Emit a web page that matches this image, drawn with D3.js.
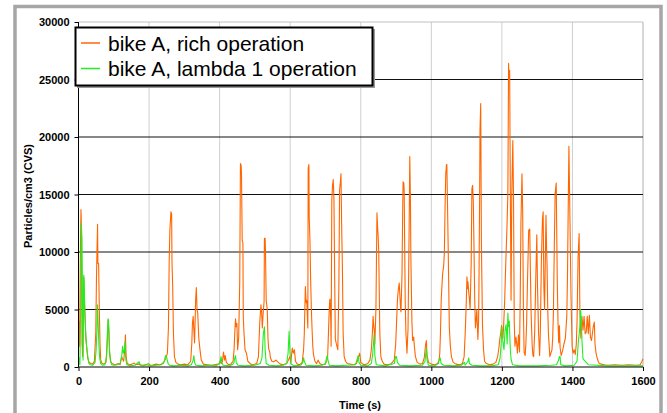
<!DOCTYPE html>
<html><head><meta charset="utf-8">
<script src="https://cdn.jsdelivr.net/npm/d3@7"></script>
<style>body{margin:0;background:#fff}svg{display:block}text{font-family:Arial,"Liberation Sans",sans-serif}</style>
</head><body><svg id="c" width="667" height="413"></svg>
<script>
const seriesNames = ["bike A, rich operation", "bike A, lambda 1 operation"];
const seriesColors = ["#ff6600", "#22ee22"];
const xTicks = [0, 200, 400, 600, 800, 1000, 1200, 1400, 1600];
const yTicks = [0, 5000, 10000, 15000, 20000, 25000, 30000];
const xTitle = "Time (s)";
const yTitle = "Particles/cm3 (CVS)";

const richTime = [0,1,3,5,7,8,10,12,14,15,17,19,21,23,26,30,35,40,45,49,51,54,55,57,59,61,63,67,72,78,81,84,86,88,92,98,105,112,118,122,125,128,131,133,135,138,145,152,158,162,170,180,190,200,210,220,230,240,245,249,252,255,257,259,262,264,265,267,269,272,276,282,290,300,310,318,321,323,325,327,329,332,334,336,338,341,344,348,354,365,375,385,395,400,402,405,408,411,414,416,419,425,432,438,441,443,445,447,449,451,454,457,459,461,462,464,466,467,469,472,476,480,488,495,505,510,512,514,517,519,521,523,526,527,529,530,532,535,537,539,542,544,548,553,560,566,572,580,590,595,599,602,605,606,609,612,615,620,627,634,638,640,643,645,647,650,651,653,654,656,658,660,662,664,666,670,675,679,684,690,700,706,708,710,712,713,715,716,718,720,722,724,726,728,731,735,738,740,742,744,746,748,750,753,757,762,770,780,788,793,797,800,806,812,820,826,830,833,835,837,838,840,843,846,848,849,851,854,857,861,866,875,885,895,899,901,904,906,909,911,913,914,917,919,920,922,923,926,928,931,934,937,939,941,942,945,947,950,952,955,960,968,975,980,984,986,988,992,1000,1010,1018,1022,1024,1026,1028,1030,1032,1035,1037,1039,1041,1043,1044,1046,1048,1051,1054,1057,1062,1070,1080,1088,1093,1096,1099,1101,1103,1104,1106,1108,1110,1113,1115,1117,1119,1121,1123,1125,1127,1129,1132,1134,1135,1137,1138,1140,1142,1145,1148,1151,1156,1165,1175,1183,1188,1191,1194,1197,1199,1201,1203,1205,1208,1211,1214,1217,1219,1220,1222,1224,1226,1228,1231,1233,1235,1237,1240,1242,1244,1247,1250,1252,1254,1257,1259,1261,1263,1266,1268,1270,1273,1276,1279,1281,1283,1286,1288,1290,1293,1296,1299,1301,1304,1307,1309,1312,1315,1317,1319,1321,1323,1325,1327,1328,1330,1332,1336,1339,1342,1344,1346,1349,1351,1354,1357,1359,1361,1363,1365,1368,1372,1376,1380,1384,1386,1388,1390,1393,1396,1399,1402,1405,1408,1411,1413,1416,1419,1421,1424,1427,1430,1433,1436,1439,1442,1445,1448,1451,1454,1457,1459,1462,1464,1467,1469,1473,1476,1482,1490,1500,1520,1540,1560,1580,1592,1597,1600];
const richValues = [1600,3900,1800,9000,13700,12600,2100,900,6000,7800,5500,3800,2400,1800,800,400,300,250,500,3000,7900,12400,9000,9000,5000,2000,600,300,250,400,2000,4100,3000,1200,400,250,200,300,200,900,700,500,1500,2800,900,300,200,250,350,200,250,150,200,150,180,250,200,300,600,900,1200,3500,9100,11900,13500,13300,9100,7000,3000,900,400,250,200,250,200,500,2000,3800,4400,3200,2100,5800,6900,5000,4700,2500,1600,600,250,200,150,200,250,300,600,300,500,1300,600,1000,400,200,250,500,1500,3000,4200,3500,3800,1500,2500,7400,17700,17500,16800,11000,10800,4400,3000,1500,1200,500,250,200,300,900,2500,4000,5400,4800,3400,4500,5700,11200,11200,10000,5800,5000,2500,1600,1300,800,500,450,600,400,250,200,300,600,900,400,1400,1650,1200,1500,500,250,200,400,1500,2900,7000,5600,5800,3400,17300,17600,13000,11000,7600,5000,3300,1800,1100,500,300,600,300,200,250,800,2500,4400,5800,5900,4000,1800,14500,15800,16300,14700,8000,2400,2000,1500,7000,15400,16000,16800,12000,8700,3000,900,500,300,250,200,300,800,1200,400,250,200,300,600,1500,3000,4400,3500,3300,2000,5000,13400,12000,11600,10000,3000,900,500,250,200,250,600,2000,3500,5800,6600,7300,6200,5000,4800,8100,14000,16100,16000,15500,5800,3000,1200,3300,11500,18300,14000,9600,4000,2300,2600,1800,900,400,250,300,800,2000,2300,1000,400,250,200,300,600,1200,3000,5800,7000,8100,8800,9900,14000,16800,17600,17600,14000,10000,3500,1800,900,400,250,200,300,900,2900,5500,7850,6800,7400,6500,5900,5000,9000,15500,15800,14400,10400,6000,3400,4000,5000,2400,4000,7000,15000,20600,22900,10700,3700,1500,500,300,200,250,400,900,1500,2400,3000,3600,2800,2500,3600,5800,9000,11700,15100,26400,25000,25800,15100,5800,14800,19700,14800,4000,1800,2600,2000,1200,2800,1300,6000,12500,16800,13500,5000,1300,1000,2000,3700,8000,11900,12000,8000,4500,1800,1000,900,3000,7600,11500,7000,3000,1000,3000,9300,12800,13500,7000,5000,9000,13200,10000,9000,5000,2900,900,1200,1500,2500,4600,11300,15100,16000,7500,4000,2100,3600,1700,1000,1400,2000,2500,4400,8000,13700,19200,12800,6100,1800,1200,1500,1100,2000,3900,9600,11600,5000,2500,4400,3200,4400,2900,3000,4400,2900,4500,2600,2300,3000,3500,3900,2000,1200,900,500,300,250,200,150,200,150,200,150,200,500,700];

const lambdaTime = [0,2,4,6,8,10,12,13,14,15,16,17,19,21,23,26,29,33,40,47,50,52,54,56,58,60,63,68,75,80,82,84,86,88,90,94,100,110,118,122,125,127,130,132,134,137,145,160,172,175,185,199,205,220,235,243,247,250,254,258,270,290,310,320,325,327,329,333,350,370,390,400,404,406,410,430,440,443,445,447,452,470,500,515,520,524,527,529,532,540,560,580,590,594,597,599,602,610,630,636,638,640,645,670,690,700,703,705,707,711,730,760,785,790,793,795,800,820,830,834,838,840,844,870,895,899,901,904,910,940,975,982,986,988,992,1010,1020,1023,1025,1028,1035,1060,1085,1092,1094,1096,1104,1106,1108,1115,1140,1170,1190,1195,1198,1200,1203,1206,1209,1212,1215,1217,1219,1221,1224,1226,1230,1250,1300,1340,1355,1361,1363,1365,1367,1380,1405,1413,1417,1419,1421,1423,1425,1427,1430,1445,1500,1550,1600];
const lambdaValues = [100,800,200,5000,12500,11000,3000,600,5000,8000,7400,6000,4100,2600,1800,1000,350,200,150,400,1500,3000,5400,3500,1800,800,300,150,200,1000,3000,4200,3500,1500,600,200,150,200,300,800,1800,1200,1500,2200,700,200,100,150,460,150,100,300,100,150,200,500,1000,800,300,150,100,150,100,200,600,1000,400,150,100,150,100,300,900,400,150,100,300,800,1000,400,150,100,150,300,800,2900,3500,1500,300,150,100,150,300,1200,3100,1500,300,100,150,400,800,500,150,100,150,300,800,1000,600,150,100,150,200,700,1000,400,150,100,300,1200,2800,1000,200,100,300,900,900,400,150,100,150,500,1600,600,150,100,300,700,800,300,150,100,150,350,400,150,500,800,300,150,100,100,200,800,2000,3500,2200,1500,3200,3700,2000,4700,3500,4000,1500,700,200,100,100,150,200,600,900,900,200,100,150,500,2300,2800,3500,5000,4200,2300,700,200,100,100,100,100];

const svg = d3.select("#c");
const m = {left: 78.5, right: 643, top: 22, bottom: 367};

// outer frame
svg.append("rect").attr("x", 15).attr("y", 6.5).attr("width", 646).attr("height", 420)
  .attr("fill", "#fff").attr("stroke", "#a6a6a6").attr("stroke-width", 3.5);

const x = d3.scaleLinear().domain([0, 1600]).range([m.left, m.right]);
const y = d3.scaleLinear().domain([0, 30000]).range([m.bottom, m.top]);

// vertical gridlines
svg.append("g").selectAll("line").data(xTicks.slice(1)).join("line")
  .attr("x1", d => x(d)).attr("x2", d => x(d)).attr("y1", m.top).attr("y2", m.bottom)
  .attr("stroke", d => d === 1600 ? "#b0b0b0" : "#cfcfcf").attr("stroke-width", 1);
// top border
svg.append("line").attr("x1", m.left).attr("x2", m.right).attr("y1", m.top).attr("y2", m.top)
  .attr("stroke", "#c0c0c0");
// horizontal gridlines
svg.append("g").selectAll("line").data(yTicks.filter(d => d > 0 && d < 30000)).join("line")
  .attr("x1", m.left).attr("x2", m.right).attr("y1", d => y(d)).attr("y2", d => y(d))
  .attr("stroke", "#111").attr("stroke-width", 1);

// series
const line = d3.line().x(d => x(d[0])).y(d => y(d[1]));
const richData = d3.zip(richTime, richValues);
const lambdaData = d3.zip(lambdaTime, lambdaValues);
svg.append("path").datum(richData).attr("d", line).attr("fill", "none")
  .attr("stroke", seriesColors[0]).attr("stroke-width", 1.1).attr("stroke-linejoin", "round");
svg.append("path").datum(lambdaData).attr("d", line).attr("fill", "none")
  .attr("stroke", seriesColors[1]).attr("stroke-width", 1.1).attr("stroke-linejoin", "round");

// axes
const yAxis = svg.append("g").attr("transform", `translate(${m.left},0)`)
  .call(d3.axisLeft(y).tickValues(yTicks).tickSize(4).tickPadding(5).tickFormat(d3.format("d")));
const xAxis = svg.append("g").attr("transform", `translate(0,${m.bottom})`)
  .call(d3.axisBottom(x).tickValues(xTicks).tickSize(4).tickPadding(6).tickFormat(d3.format("d")));
[yAxis, xAxis].forEach(g => {
  g.select(".domain").attr("stroke", "#000");
  g.selectAll(".tick line").attr("stroke", "#000");
  g.selectAll(".tick text").attr("font-size", 11).attr("font-weight", "bold")
    .attr("font-family", "Arial, 'Liberation Sans', sans-serif").attr("fill", "#000");
});
yAxis.select(".domain").attr("d", `M0,${m.top}V${m.bottom}`);
xAxis.select(".domain").attr("d", `M${m.left},0H${m.right}`);

// titles
svg.append("text").attr("x", 360).attr("y", 409).attr("text-anchor", "middle")
  .attr("font-size", 11).attr("font-weight", "bold").text(xTitle);
svg.append("text").attr("transform", "translate(32,196) rotate(-90)").attr("text-anchor", "middle")
  .attr("font-size", 11).attr("font-weight", "bold").text(yTitle);

// legend
const lg = svg.append("g");
lg.append("rect").attr("x", 77).attr("y", 29).attr("width", 298).attr("height", 59).attr("fill", "#999");
lg.append("rect").attr("x", 75.5).attr("y", 27.5).attr("width", 297).attr("height", 58)
  .attr("fill", "#fff").attr("stroke", "#000").attr("stroke-width", 2);
seriesNames.forEach((n, i) => {
  const yy = 43 + i * 25.5;
  lg.append("line").attr("x1", 81).attr("x2", 100).attr("y1", yy).attr("y2", yy)
    .attr("stroke", seriesColors[i]).attr("stroke-width", 1.5);
  lg.append("text").attr("x", 108).attr("y", yy + 7.5).attr("font-size", 21).attr("fill", "#000").text(n);
});
</script></body></html>
